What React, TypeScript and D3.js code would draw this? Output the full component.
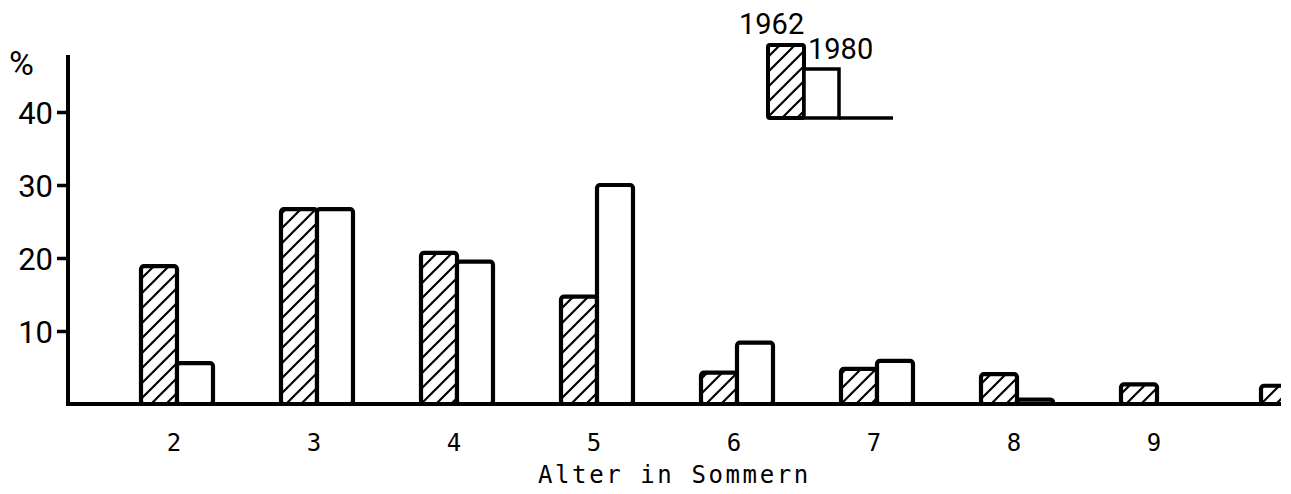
import { useEffect, useRef } from 'react';
import * as d3 from 'd3';

// Altersklassen (Sommer) und Anteile in %
const categories = [2, 3, 4, 5, 6, 7, 8, 9, 10];
const tickLabels = ['2', '3', '4', '5', '6', '7', '8', '9', ''];
const values1962 = [18.9, 26.7, 20.7, 14.7, 4.3, 4.8, 4.1, 2.7, 2.5];
const values1980 = [5.6, 26.7, 19.5, 30.0, 8.4, 5.9, 0.6, 0, 0];
const yTicks = [10, 20, 30, 40];
const seriesKeys = ['1962', '1980'];

export default function App() {
  const svgRef = useRef<SVGSVGElement | null>(null);

  useEffect(() => {
    if (!svgRef.current) return;
    const width = 1291;
    const height = 494;
    const base = 404;

    const svg = d3.select(svgRef.current);
    svg.selectAll('*').remove();
    svg.attr('width', width).attr('height', height);

    const defs = svg.append('defs');
    const pat = defs.append('pattern')
      .attr('id', 'hatch')
      .attr('patternUnits', 'userSpaceOnUse')
      .attr('width', 15).attr('height', 15);
    pat.append('rect').attr('width', 15).attr('height', 15).attr('fill', '#fff');
    pat.append('path')
      .attr('d', 'M-2,17 L17,-2 M-4,4 L4,-4 M11,19 L19,11')
      .attr('stroke', '#000')
      .attr('stroke-width', 2.2);
    defs.append('clipPath').attr('id', 'plotClip')
      .append('rect').attr('x', 0).attr('y', 0).attr('width', 1281).attr('height', height);

    const x0 = d3.scaleBand<number>()
      .domain(categories)
      .range([107, 107 + categories.length * 140]);

    const x1 = d3.scaleBand<string>()
      .domain(seriesKeys)
      .range([x0.bandwidth() / 2 - 36, x0.bandwidth() / 2 + 36]);

    const y = d3.scaleLinear().domain([0, 40]).range([base, 112]);

    const g = svg.append('g').attr('clip-path', 'url(#plotClip)');

    // baseline
    g.append('line')
      .attr('x1', 66).attr('x2', 1281)
      .attr('y1', base).attr('y2', base)
      .attr('stroke', '#000').attr('stroke-width', 4);

    // bars
    const series = [
      { key: '1962', vals: values1962, fill: 'url(#hatch)' },
      { key: '1980', vals: values1980, fill: '#fff' },
    ];
    series.forEach((s) => {
      categories.forEach((c, i) => {
        const v = s.vals[i];
        if (!v) return;
        const x = (x0(c) as number) + (x1(s.key) as number);
        g.append('rect')
          .attr('x', x)
          .attr('y', y(v))
          .attr('width', x1.bandwidth())
          .attr('height', base - y(v))
          .attr('rx', 3)
          .attr('fill', s.fill)
          .attr('stroke', '#000')
          .attr('stroke-width', 4.2);
      });
    });

    // y axis
    const yAxis = svg.append('g')
      .attr('transform', 'translate(68,0)')
      .call(d3.axisLeft(y).tickValues(yTicks).tickSize(11).tickPadding(4));
    yAxis.select('.domain').remove();
    yAxis.selectAll('.tick line').attr('stroke', '#000').attr('stroke-width', 3.5);
    yAxis.selectAll('.tick text')
      .attr('fill', '#000')
      .attr('font-family', 'Roboto, sans-serif')
      .attr('font-size', 31)
      .attr('dy', '0.36em');
    svg.append('line')
      .attr('x1', 68).attr('x2', 68)
      .attr('y1', 55).attr('y2', base + 2)
      .attr('stroke', '#000').attr('stroke-width', 4);
    svg.append('text')
      .attr('x', 9).attr('y', 75)
      .attr('font-family', 'Roboto, sans-serif')
      .attr('font-size', 34)
      .text('%');

    // x labels
    categories.forEach((c, i) => {
      svg.append('text')
        .attr('x', (x0(c) as number) + x0.bandwidth() / 2 - 3)
        .attr('y', 451)
        .attr('text-anchor', 'middle')
        .attr('font-family', '"DejaVu Sans Mono", monospace')
        .attr('font-size', 24)
        .text(tickLabels[i]);
    });
    svg.append('text')
      .attr('x', 538).attr('y', 483)
      .attr('font-family', '"DejaVu Sans Mono", monospace')
      .attr('font-size', 24)
      .attr('letter-spacing', 2.6)
      .text('Alter in Sommern');

    // legend
    const leg = svg.append('g');
    leg.append('rect')
      .attr('x', 768).attr('y', 45).attr('width', 36).attr('height', 73)
      .attr('rx', 2)
      .attr('fill', 'url(#hatch)').attr('stroke', '#000').attr('stroke-width', 4);
    leg.append('rect')
      .attr('x', 804).attr('y', 69).attr('width', 35).attr('height', 49)
      .attr('fill', '#fff').attr('stroke', '#000').attr('stroke-width', 3.5);
    leg.append('line')
      .attr('x1', 839).attr('x2', 893).attr('y1', 118).attr('y2', 118)
      .attr('stroke', '#000').attr('stroke-width', 3.5);
    leg.append('text')
      .attr('x', 739).attr('y', 34)
      .attr('font-family', 'Roboto, sans-serif').attr('font-size', 29)
      .text('1962');
    leg.append('text')
      .attr('x', 808).attr('y', 59)
      .attr('font-family', 'Roboto, sans-serif').attr('font-size', 29)
      .text('1980');
  }, []);

  return (
    <div style={{ position: 'absolute', left: 0, top: 0, background: '#fff' }}>
      <svg ref={svgRef} style={{ display: 'block' }}></svg>
    </div>
  );
}
